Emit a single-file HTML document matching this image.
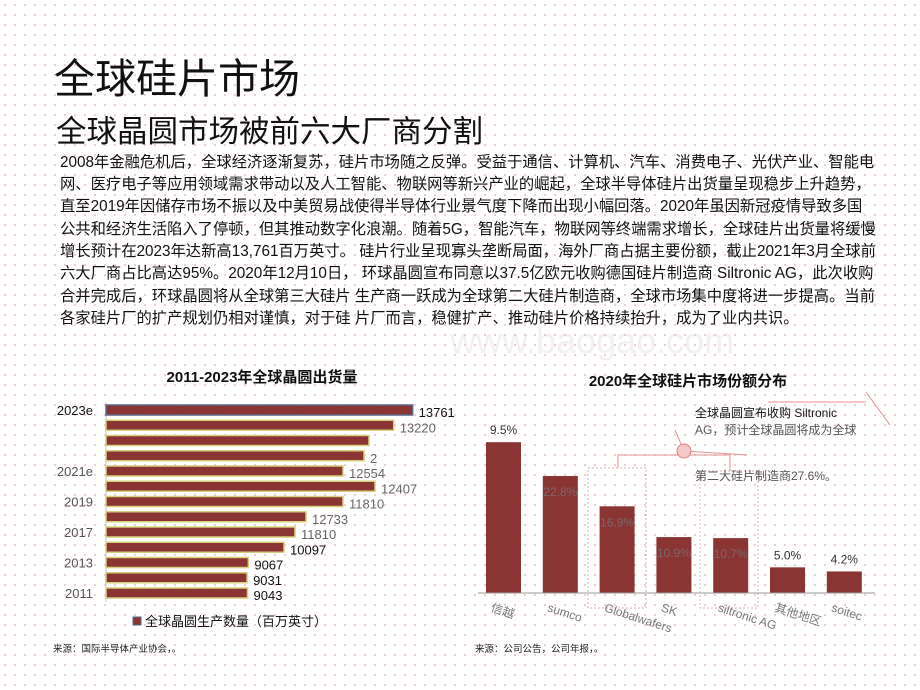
<!DOCTYPE html>
<html><head><meta charset="utf-8">
<style>
html,body{margin:0;padding:0}
body{width:920px;height:690px;position:relative;overflow:hidden;background-color:#fff;
background-image:radial-gradient(circle,#e8c0c0 0.8px,transparent 1.1px);background-size:10px 10px;
font-family:"Liberation Sans","Noto Sans CJK SC",sans-serif;color:#111}
.abs{position:absolute;white-space:nowrap}
#title{left:54px;top:56px;font-size:41px;line-height:46px}
#sub{left:56px;top:113px;font-size:30.5px;line-height:38px}
.ln{position:absolute;left:60px;font-size:15.3px;white-space:nowrap;line-height:20px}
svg{position:absolute;left:0;top:0}
</style></head><body>
<div class="abs" id="title">全球硅片市场</div>
<div class="abs" id="sub">全球晶圆市场被前六大厂商分割</div>
<div>
<div class="ln" style="top:153px">2008年金融危机后，全球经济逐渐复苏，硅片市场随之反弹。受益于通信、计算机、汽车、消费电子、光伏产业、智能电</div>
<div class="ln" style="top:175px">网、医疗电子等应用领域需求带动以及人工智能、物联网等新兴产业的崛起，全球半导体硅片出货量呈现稳步上升趋势，</div>
<div class="ln" style="top:197px">直至2019年因储存市场不振以及中美贸易战使得半导体行业景气度下降而出现小幅回落。2020年虽因新冠疫情导致多国</div>
<div class="ln" style="top:220px">公共和经济生活陷入了停顿，但其推动数字化浪潮。随着5G，智能汽车，物联网等终端需求增长，全球硅片出货量将缓慢</div>
<div class="ln" style="top:242px">增长预计在2023年达新高13,761百万英寸。 硅片行业呈现寡头垄断局面，海外厂商占据主要份额，截止2021年3月全球前</div>
<div class="ln" style="top:264px">六大厂商占比高达95%。2020年12月10日， 环球晶圆宣布同意以37.5亿欧元收购德国硅片制造商 Siltronic AG，此次收购</div>
<div class="ln" style="top:287px">合并完成后，环球晶圆将从全球第三大硅片 生产商一跃成为全球第二大硅片制造商，全球市场集中度将进一步提高。当前</div>
<div class="ln" style="top:309px">各家硅片厂的扩产规划仍相对谨慎，对于硅 片厂而言，稳健扩产、推动硅片价格持续抬升，成为了业内共识。</div>
</div>
<div class="abs" style="left:450px;top:320px;font-size:36px;color:rgba(210,210,210,0.3)">www.baogao.com</div>
<svg id="chart" width="920" height="690"></svg>
<script>
const hbarYears=["2023e","","","","2021e","","2019","","2017","","2013","","2011"];
const hbarValues=[13761,13220,12514,12371,11771,12686,11771,10714,10400,10086,9067,9031,9043];
const hbarLabels=["13761","13220","","2","12554","12407","11810","12733","11810","10097","9067","9031","9043"];
const vbarCats=["信越","sumco","Globalwafers","SK","siltronic AG","其他地区","soitec"];
const vbarValues=[29.4,22.8,16.9,10.9,10.7,5.0,4.2];
const vbarLabels=["9.5%","22.8%","16.9%","10.9%","10.7%","5.0%","4.2%"];

const NS="http://www.w3.org/2000/svg";
const svg=document.getElementById('chart');
function mk(tag,attrs,parent,text){const e=document.createElementNS(NS,tag);for(const k in attrs)e.setAttribute(k,attrs[k]);if(text!==undefined)e.textContent=text;(parent||svg).appendChild(e);return e;}

const g1=mk('g',{});


const t1=mk('text',{x:262,y:382,'text-anchor':'middle','font-size':15,'font-weight':'bold',fill:'#111'},g1,'2011-2023年全球晶圆出货量');


const x0=106,vmin=5000,pxPer=0.035;
function xs(v){return x0+(v-vmin)*pxPer;}
function ys(i){return 410+i*15.25;}
mk('line',{x1:x0,y1:402,x2:x0,y2:602,stroke:'#ccc','stroke-width':1},g1);
hbarValues.forEach((v,i)=>{
  const r=mk('rect',{x:x0,y:ys(i)-5,width:xs(v)-x0,height:10,fill:'#8b3434',stroke:i===0?'#5a6a8a':'#d6d07a','stroke-width':1.5},g1);
  
  
  if(hbarYears[i]){const yl=mk('text',{x:93,y:ys(i)+5,'text-anchor':'end','font-size':13,fill:i===0?'#111':'#555'},g1,hbarYears[i]);
    
    }
  if(hbarLabels[i]){const vl=mk('text',{x:xs(v)+6,y:ys(i)+7,'font-size':13,fill:(i===0||i>=9)?'#111':'#666'},g1,hbarLabels[i]);
    
    }
});
const lg=mk('rect',{x:133,y:617,width:8,height:8,fill:'#8b3434',stroke:'#5a6a8a'},g1);


const lt=mk('text',{x:145,y:626,'font-size':13,fill:'#111'},g1,'全球晶圆生产数量（百万英寸）');


const s1=mk('text',{x:53,y:652,'font-size':9.5,fill:'#222'},g1,'来源：国际半导体产业协会，。');



const g2=mk('g',{});


const t2=mk('text',{x:688,y:386,'text-anchor':'middle','font-size':15,'font-weight':'bold',fill:'#111'},g2,'2020年全球硅片市场份额分布');


const base=593,pp=5.13,bx0=486,step=56.8,bw=35;
function vy(v){return base-v*pp;}
mk('rect',{x:588,y:468,width:58,height:140,fill:'none',stroke:'#d8b0b0','stroke-dasharray':'2,2'},g2);
mk('rect',{x:700,y:471,width:58,height:137,fill:'none',stroke:'#d8b0b0','stroke-dasharray':'2,2'},g2);
mk('polyline',{points:'618,468 618,455 730,455 730,471',fill:'none',stroke:'#e09090','stroke-width':1},g2);
mk('line',{x1:675,y1:430,x2:684,y2:451,stroke:'#e09090'},g2);
mk('line',{x1:684,y1:451,x2:747,y2:455,stroke:'#e09090'},g2);
mk('line',{x1:768,y1:402,x2:866,y2:402,stroke:'#e09090'},g2);
mk('line',{x1:866,y1:392,x2:890,y2:425,stroke:'#e09090'},g2);
mk('circle',{cx:684,cy:451,r:7,fill:'#f4c8c8',stroke:'#e08080'},g2);
vbarValues.forEach((v,i)=>{
  const x=bx0+i*step;
  const r=mk('rect',{x:x,y:vy(v),width:bw,height:v*pp,fill:'#8b3434'},g2);
  
  
  const inside=(i>=1&&i<=4);
  const ly=inside?vy(v)+20:vy(v)-8;
  const vl=mk('text',{x:x+bw/2,y:ly,'text-anchor':'middle','font-size':12,fill:inside?'rgba(120,120,120,0.75)':'#333'},g2,vbarLabels[i]);
  
  
  const cl=mk('text',{x:x+4,y:base+18,'font-size':12,fill:'#777',transform:'rotate(18 '+(x+4)+' '+(base+18)+')'},g2,vbarCats[i]);
  
  
});
mk('line',{x1:478,y1:base,x2:875,y2:base,stroke:'#999'},g2);
const ann=[['全球晶圆宣布收购  Siltronic',417,'#111'],['AG，预计全球晶圆将成为全球',434,'#555'],['第二大硅片制造商27.6%。',480,'#555']];
ann.forEach(a=>{const t=mk('text',{x:695,y:a[1],'font-size':12,fill:a[2]},g2,a[0]);
  
  });
const s2=mk('text',{x:475,y:652,'font-size':9.5,fill:'#222'},g2,'来源：公司公告，公司年报，。');


</script>
</body></html>
